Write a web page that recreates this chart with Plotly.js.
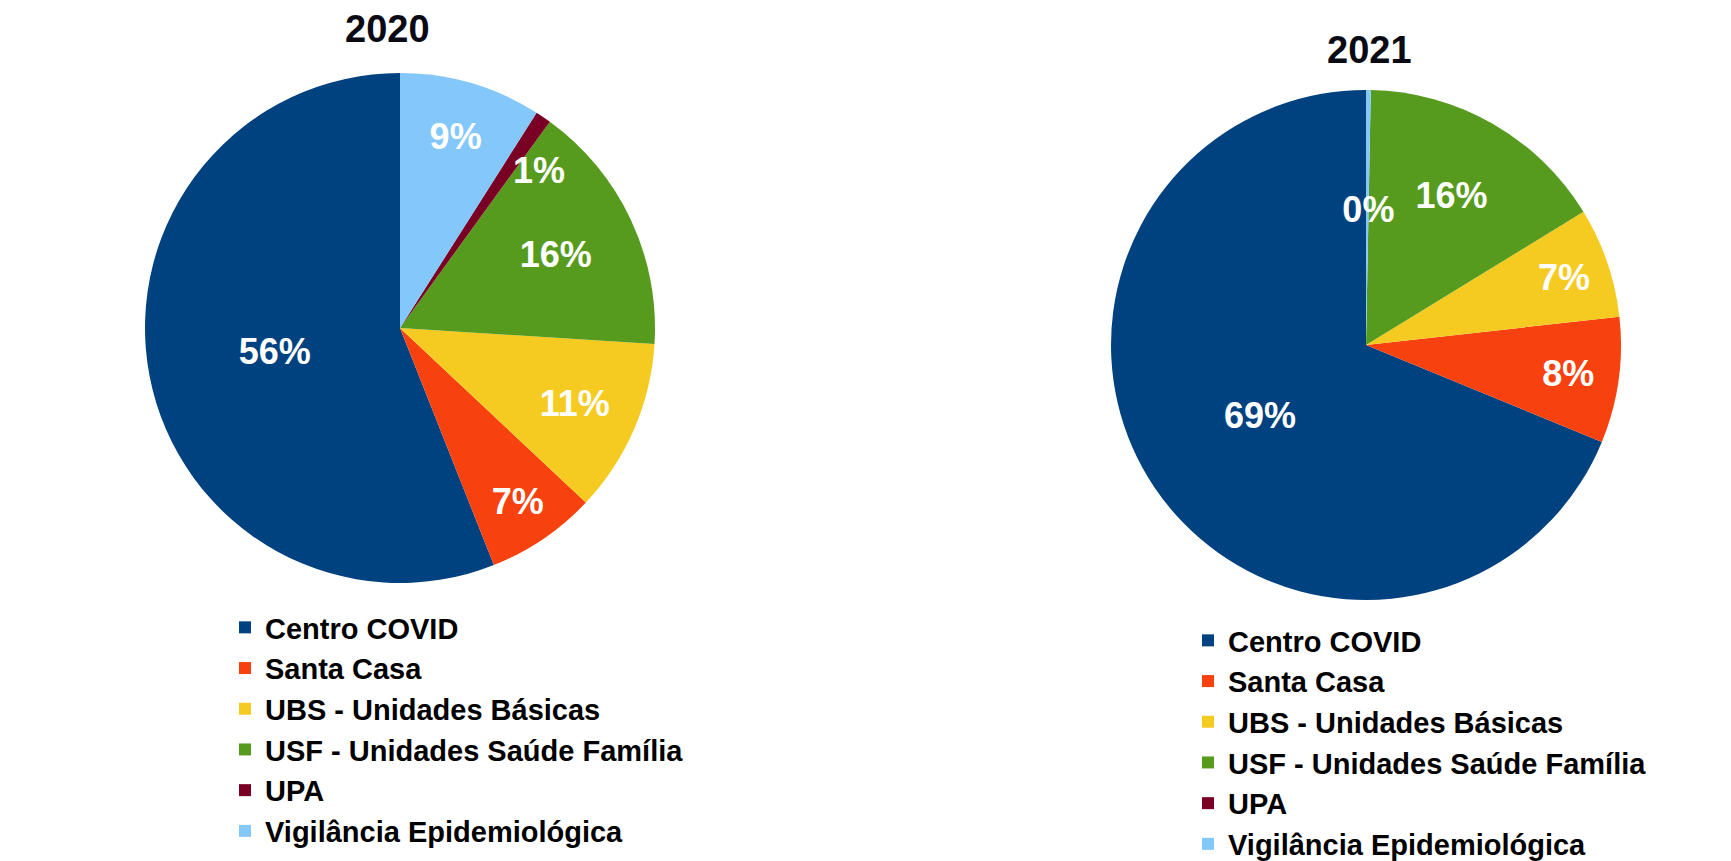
<!DOCTYPE html>
<html>
<head>
<meta charset="utf-8">
<script src="https://cdn.plot.ly/plotly-3.0.1.min.js"></script>
<style>
  html, body { margin: 0; padding: 0; background: #ffffff; }
  #chart { width: 1731px; height: 861px; }
</style>
</head>
<body>
<div id="chart"></div>
<script>
// Data
const categories = [
  'Centro COVID',
  'Santa Casa',
  'UBS - Unidades Básicas',
  'USF - Unidades Saúde Família',
  'UPA',
  'Vigilância Epidemiológica'
];
const values2020 = [56, 7, 11, 16, 1, 9];
const values2021 = [69, 8, 7, 16, 0, 0.3];
const years = ['2020', '2021'];
const sliceColors = ['#00417f', '#f7410f', '#f5cb22', '#579b1e', '#790024', '#84c7fa'];

const FONT = '"Liberation Sans", Arial, Helvetica, sans-serif';

function total(values) { return values.reduce((a, b) => a + b, 0); }

// First slice (Centro COVID) runs counterclockwise from 12 o'clock,
// so the pie is rotated back by the first slice's angle.
function firstSliceAngle(values) {
  return values[0] / total(values) * 360;
}

// Empty slices get no label. Very thin slices: Plotly puts their label on
// the rim; padding lines above the label push the visible text inward.
function labelTemplates(values, pad) {
  const t = total(values);
  return values.map(v => {
    if (v === 0) return '';
    if (v / t < 0.02) return '&nbsp;<br>'.repeat(pad) + '%{percent:.0%}';
    return '%{percent:.0%}';
  });
}

function pieTrace(values, domain, legendId, group, pad) {
  return {
    type: 'pie',
    labels: categories,
    values: values,
    sort: false,
    direction: 'counterclockwise',
    rotation: -firstSliceAngle(values),
    domain: domain,
    legend: legendId,
    legendgroup: group,
    marker: { colors: sliceColors, line: { width: 0 } },
    texttemplate: labelTemplates(values, pad),
    textposition: 'inside',
    insidetextorientation: 'horizontal',
    textfont: { family: FONT, size: 36, color: '#ffffff', weight: 'bold' },
    hoverinfo: 'label+value+percent'
  };
}

const W = 1731, H = 861;
function dom(cx, cy, r) {
  return { x: [(cx - r) / W, (cx + r) / W], y: [1 - (cy + r) / H, 1 - (cy - r) / H] };
}

const data = [
  pieTrace(values2020, dom(400, 328, 255), 'legend', 'g2020', 2),
  pieTrace(values2021, dom(1366, 345, 255), 'legend2', 'g2021', 5)
];

const legendCommon = {
  font: { family: FONT, size: 29, color: '#000000', weight: 'bold' },
  bgcolor: 'rgba(0,0,0,0)',
  xanchor: 'left',
  yanchor: 'top',
  orientation: 'v',
  tracegroupgap: 0,
  itemclick: false,
  itemdoubleclick: false
};

const layout = {
  width: W,
  height: H,
  margin: { l: 0, r: 0, t: 0, b: 0, autoexpand: false },
  paper_bgcolor: '#ffffff',
  plot_bgcolor: '#ffffff',
  showlegend: true,
  uniformtext: { minsize: 36, mode: 'show' },
  legend: Object.assign({}, legendCommon, { x: 225 / W, y: 1 - 602 / H }),
  legend2: Object.assign({}, legendCommon, { x: 1188 / W, y: 1 - 615 / H }),
  annotations: [
    { text: years[0], x: 387 / W, y: 1 - 29 / H, xref: 'paper', yref: 'paper',
      xanchor: 'center', yanchor: 'middle', showarrow: false,
      font: { family: FONT, size: 38, color: '#0a0a14', weight: 'bold' } },
    { text: years[1], x: 1369 / W, y: 1 - 50 / H, xref: 'paper', yref: 'paper',
      xanchor: 'center', yanchor: 'middle', showarrow: false,
      font: { family: FONT, size: 38, color: '#0a0a14', weight: 'bold' } }
  ]
};

Plotly.newPlot('chart', data, layout, { displayModeBar: false });
</script>
</body>
</html>
